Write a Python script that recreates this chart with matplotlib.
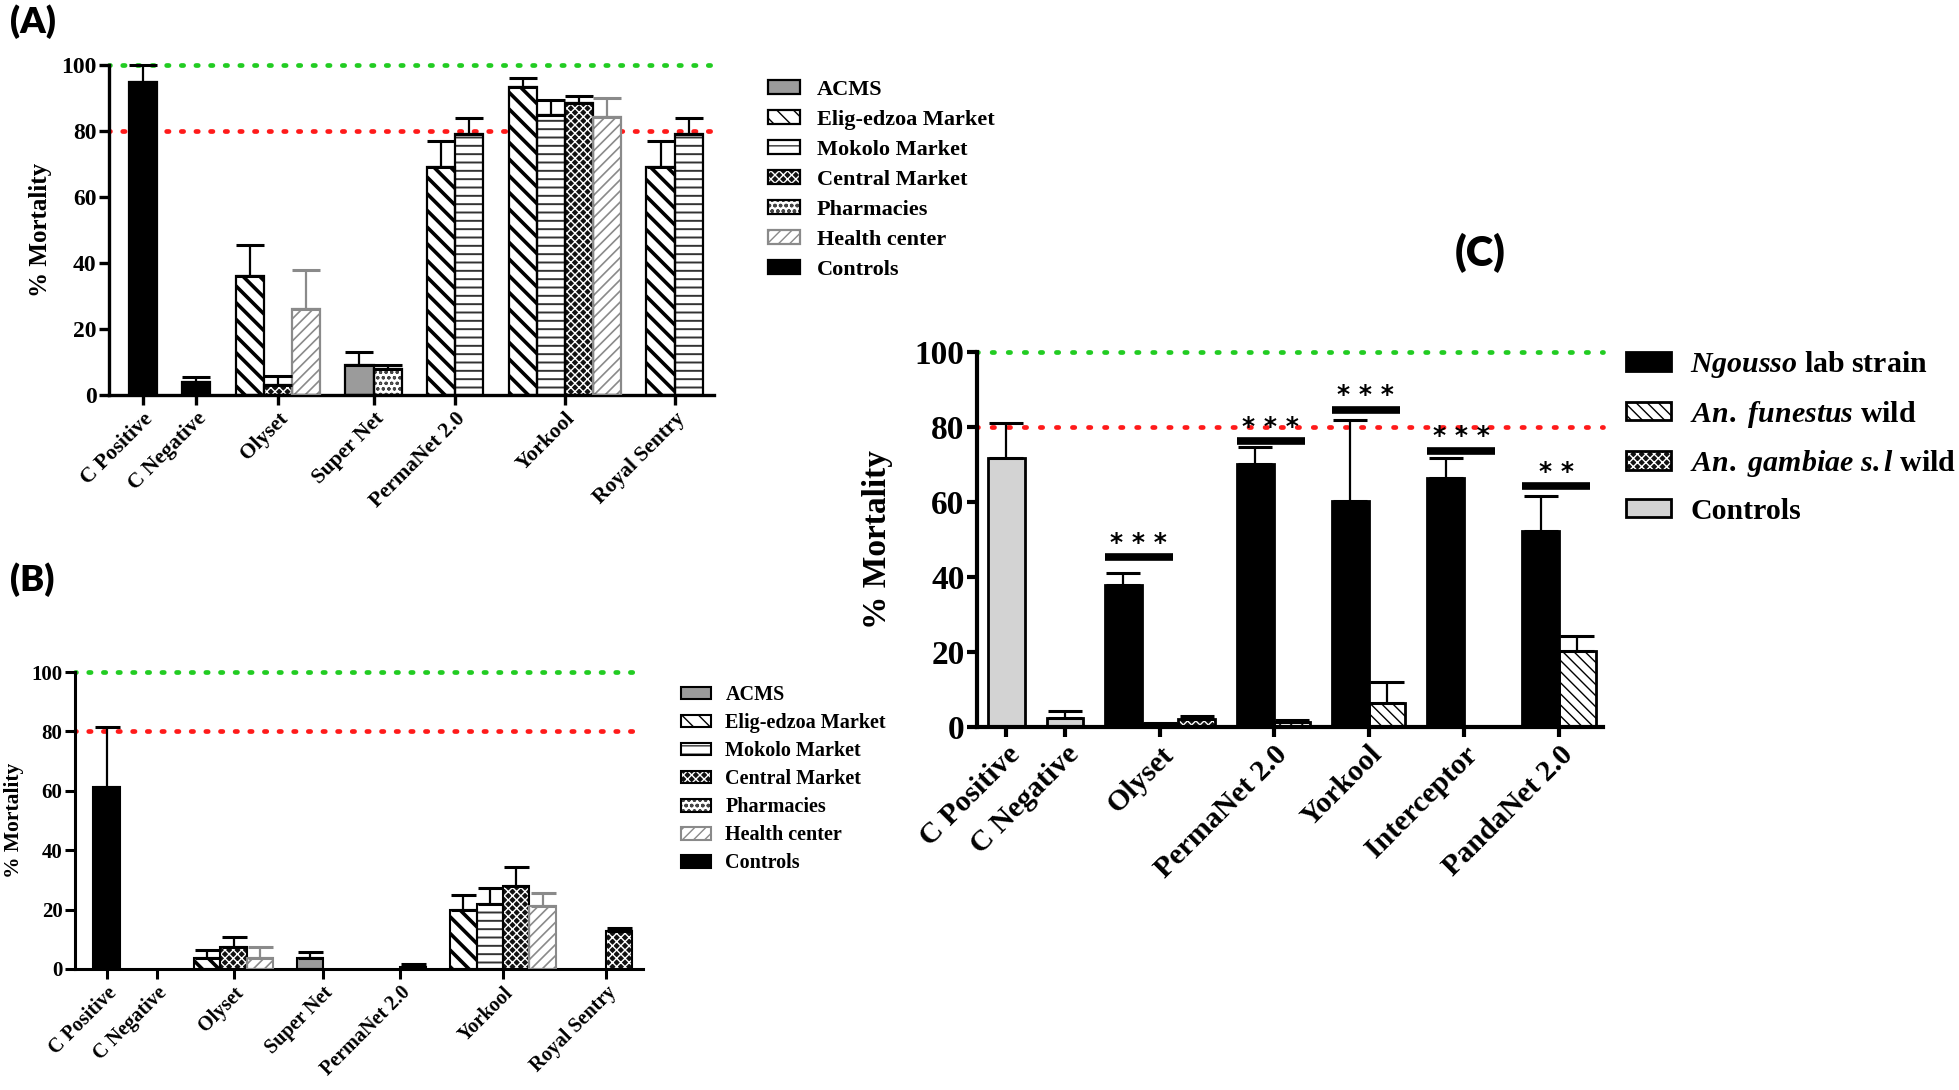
import matplotlib
matplotlib.use("Agg")
import matplotlib.pyplot as plt
from matplotlib.patches import Patch
from matplotlib.legend_handler import HandlerTuple

plt.rcParams['font.family'] = ['Liberation Serif', 'DejaVu Serif']
plt.rcParams['font.weight'] = 'bold'
plt.rcParams['axes.labelweight'] = 'bold'
plt.rcParams['mathtext.fontset'] = 'custom'
plt.rcParams['mathtext.it'] = 'Liberation Serif:italic:bold'
plt.rcParams['mathtext.rm'] = 'Liberation Serif:bold'
plt.rcParams['mathtext.bf'] = 'Liberation Serif:bold'

# ---- data: panels A and B (nets bought in different places) ----
groups_ab = ["C Positive", "C Negative", "Olyset", "Super Net",
             "PermaNet 2.0", "Yorkool", "Royal Sentry"]
slots_ab = [1, 1, 3, 2, 2, 4, 2]

series_a = [["Controls"], ["Controls"],
            ["Elig-edzoa Market", "Central Market", "Health center"],
            ["ACMS", "Pharmacies"],
            ["Elig-edzoa Market", "Mokolo Market"],
            ["Elig-edzoa Market", "Mokolo Market", "Central Market", "Health center"],
            ["Elig-edzoa Market", "Mokolo Market"]]
mean_a = [[95], [4], [36, 3, 26], [9, 8], [69, 79], [93.3, 84.7, 88.6, 84.2], [69, 79]]
err_a = [[5], [1.4], [9.6, 2.8, 12], [4, 1], [8, 5], [2.8, 4.7, 2, 5.9], [8, 5]]

series_b = [["Controls"], [None],
            ["Elig-edzoa Market", "Central Market", "Health center"],
            ["ACMS", None],
            [None, "Mokolo Market"],
            ["Elig-edzoa Market", "Mokolo Market", "Central Market", "Health center"],
            [None, "Central Market"]]
mean_b = [[61.2], [None], [3.8, 7.5, 3.8], [3.6, None], [None, 0.7],
          [19.7, 21.8, 27.8, 21.3], [None, 12.8]]
err_b = [[20.2], [None], [2.5, 3.4, 3.7], [2, None], [None, 0.9],
         [5.3, 5.4, 6.7, 4.2], [None, 0.9]]

legend_ab = ["ACMS", "Elig-edzoa Market", "Mokolo Market", "Central Market",
             "Pharmacies", "Health center", "Controls"]

# ---- data: panel C (lab strain vs wild populations) ----
groups_c = ["C Positive", "C Negative", "Olyset", "PermaNet 2.0",
            "Yorkool", "Interceptor", "PandaNet 2.0"]
slots_c = [1, 1, 3, 2, 2, 2, 2]
series_c = [["CtrlC"], ["CtrlC"], ["Ngousso", "funestus", "gambiae"],
            ["Ngousso", "funestus"], ["Ngousso", "funestus"],
            ["Ngousso", None], ["Ngousso", "funestus"]]
mean_c = [[71.7], [2.5], [37.9, 0.9, 2.1], [70.2, 1.3], [60.4, 6.4],
          [66.4, None], [52.3, 20.3]]
err_c = [[9.4], [1.8], [3.3, 0.3, 0.9], [4.5, 0.7], [21.6, 5.5],
         [5.3, None], [9.2, 3.9]]
sig_y = [None, None, 45.3, 76.2, 84.6, 73.7, 64.2]
sig_txt = [None, None, "* * *", "* * *", "* * *", "* * *", "* *"]
legend_c = ["Ngousso", "funestus", "gambiae", "CtrlC"]
legend_c_labels = [r"$\it{Ngousso}$ lab strain", r"$\it{An.\ funestus}$ wild",
                   r"$\it{An.\ gambiae\ s.l}$ wild", "Controls"]

# fill, hatch colour, hatch, hatch lw, edge colour
STYLES = {
    "ACMS": ("#9b9b9b", "black", None, 1.0, "black"),
    "Elig-edzoa Market": ("white", "black", "\\\\", 2.6, "black"),
    "Mokolo Market": ("white", "#333333", "--", 1.4, "black"),
    "Central Market": ("#111111", "white", "xxxx", 1.0, "black"),
    "Pharmacies": ("white", "#444444", "ooo", 0.8, "black"),
    "Health center": ("white", "#8a8a8a", "///", 1.2, "#8a8a8a"),
    "Controls": ("black", "black", None, 1.0, "black"),
    "Ngousso": ("black", "black", None, 1.0, "black"),
    "funestus": ("white", "black", "\\\\\\", 1.0, "black"),
    "gambiae": ("#111111", "white", "xxxx", 1.0, "black"),
    "CtrlC": ("#d3d3d3", "#d3d3d3", None, 1.0, "black"),
}


def group_centers(slots, start, gap):
    cs, x = [], start
    for n in slots:
        cs.append(x + n / 2)
        x += n + gap
    return cs


def draw_bar(ax, x, h, name, elw):
    fc, hc, hatch, hlw, ec = STYLES[name]
    with plt.rc_context({'hatch.linewidth': hlw}):
        bars = ax.bar(x, h, 1.0, color=fc, edgecolor=hc, hatch=hatch,
                      linewidth=0, zorder=2)
    for p in bars:
        if hasattr(p, "set_hatch_linewidth"):
            p.set_hatch_linewidth(hlw)
    ax.bar(x, h, 1.0, fill=False, edgecolor=ec, linewidth=elw, zorder=3)


def make_handle(name, elw):
    fc, hc, hatch, hlw, ec = STYLES[name]
    with plt.rc_context({'hatch.linewidth': hlw}):
        p1 = Patch(facecolor=fc, edgecolor=hc, hatch=hatch, linewidth=0)
    if hasattr(p1, "set_hatch_linewidth"):
        p1.set_hatch_linewidth(hlw)
    p2 = Patch(fill=False, edgecolor=ec, linewidth=elw)
    return (p1, p2)


def panel(ax, groups, slots, series, means, errs, start, gap, xmax,
          tick_fs, ytick_fs, elw, cap, spine_lw, dot):
    centers = group_centers(slots, start, gap)
    for c, n, ser, mv, ev in zip(centers, slots, series, means, errs):
        for i, (name, m, e) in enumerate(zip(ser, mv, ev)):
            if name is None:
                continue
            x = c + (i - (n - 1) / 2)
            draw_bar(ax, x, m, name, elw)
            col = "#8a8a8a" if name == "Health center" else "black"
            ax.errorbar(x, m, yerr=[[0], [e]], fmt="none", ecolor=col,
                        elinewidth=1.6, capsize=cap, capthick=2.2,
                        zorder=4, clip_on=False)
    ax.axhline(100, color="#22cc22", lw=3.4, ls=(0.3, (0.5, dot)),
               dash_capstyle="round", zorder=1, clip_on=False)
    ax.axhline(80, color="#ff1a1a", lw=3.4, ls=(0.3, (0.5, dot)),
               dash_capstyle="round", zorder=1, clip_on=False)
    ax.set_xlim(0, xmax)
    ax.set_ylim(0, 100)
    ax.set_yticks(range(0, 101, 20))
    ax.set_xticks(centers)
    ax.set_xticklabels(groups, rotation=45, ha="right",
                       rotation_mode="anchor", fontsize=tick_fs)
    ax.tick_params(axis="y", labelsize=ytick_fs, width=spine_lw, length=7,
                   pad=2)
    ax.tick_params(axis="x", width=spine_lw, length=7, pad=3)
    for s in ("top", "right"):
        ax.spines[s].set_visible(False)
    for s in ("left", "bottom"):
        ax.spines[s].set_linewidth(spine_lw)
    return centers


fig = plt.figure(figsize=(19.59, 10.90), dpi=100)
W, H = 1959, 1090


def axes_px(left, right, top, bottom):
    return fig.add_axes([left / W, 1 - bottom / H, (right - left) / W,
                         (bottom - top) / H])


# Panel A
ax_a = axes_px(109, 714, 65, 395)
panel(ax_a, groups_ab, slots_ab, series_a, mean_a, err_a, 0.7, 0.9, 21.5,
      15.5, 17, 1.6, 10, 2.4, 2.6)
ax_a.set_ylabel("% Mortality", fontsize=18, fontweight="bold")
ax_a.yaxis.set_label_coords(-0.094, 0.5)

# Panel B
ax_b = axes_px(75, 643, 672, 969)
panel(ax_b, groups_ab, slots_ab, series_b, mean_b, err_b, 0.7, 0.9, 21.5,
      14.5, 15, 1.5, 9, 2.2, 2.6)
ax_b.set_ylabel("% Mortality", fontsize=15.5, fontweight="bold")
ax_b.yaxis.set_label_coords(-0.09, 0.5)

# Panel C
ax_c = axes_px(977, 1603, 352, 727)
cc = panel(ax_c, groups_c, slots_c, series_c, mean_c, err_c, 0.3, 0.6, 17.1,
           21.5, 24, 2.0, 12, 3.0, 2.9)
ax_c.set_ylabel("% Mortality", fontsize=24, fontweight="bold")
ax_c.yaxis.set_label_coords(-0.134, 0.5)
for c, n, y, t in zip(cc, slots_c, sig_y, sig_txt):
    if y is None:
        continue
    left = c - n / 2
    ax_c.plot([left, left + 1.85], [y, y], color="black", lw=5.5,
              solid_capstyle="butt", zorder=5)
    ax_c.text(left + 0.92, y + 0.6, t, ha="center", va="bottom",
              fontsize=18, fontweight="bold", family="DejaVu Sans")

# legends
hmap = {tuple: HandlerTuple(ndivide=1, pad=0)}
fig.legend([make_handle(n, 1.6) for n in legend_ab], legend_ab,
           loc="upper left", bbox_to_anchor=(768 / W, 1 - 80 / H),
           frameon=False, fontsize=16, handlelength=1.45, handleheight=0.6,
           labelspacing=0.45, handletextpad=0.75, borderpad=0,
           borderaxespad=0, handler_map=hmap)
fig.legend([make_handle(n, 1.5) for n in legend_ab], legend_ab,
           loc="upper left", bbox_to_anchor=(681 / W, 1 - 685 / H),
           frameon=False, fontsize=14.5, handlelength=1.5, handleheight=0.6,
           labelspacing=0.4, handletextpad=0.7, borderpad=0,
           borderaxespad=0, handler_map=hmap)
fig.legend([make_handle(n, 2.0) for n in legend_c], legend_c_labels,
           loc="upper left", bbox_to_anchor=(1626 / W, 1 - 349 / H),
           frameon=False, fontsize=21.5, handlelength=1.5, handleheight=0.6,
           labelspacing=0.62, handletextpad=0.65, borderpad=0,
           borderaxespad=0, handler_map=hmap)

# panel letters
for (px, py, lab, fs) in [(10, 4, "(A)", 26), (10, 562, "(B)", 26),
                          (1455, 233, "(C)", 30)]:
    fig.text(px / W, 1 - py / H, lab, family=["Lato", "DejaVu Sans"],
             fontweight="heavy", fontsize=fs, va="top", ha="left")

fig.savefig("out.png", dpi=100)
